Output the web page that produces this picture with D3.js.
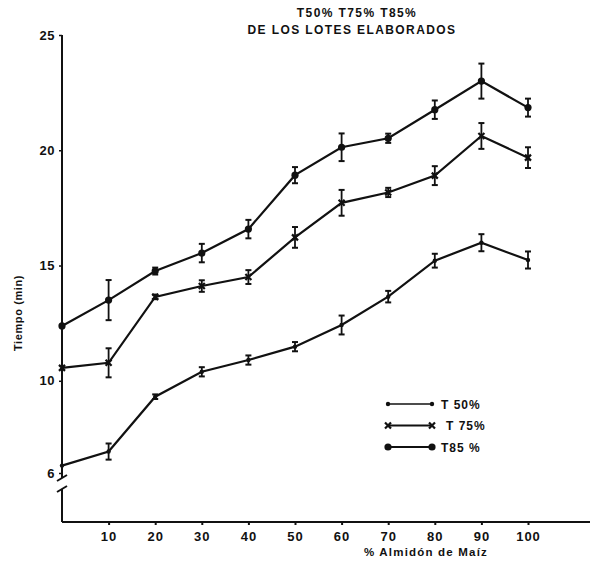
<!DOCTYPE html>
<html>
<head>
<meta charset="utf-8">
<script src="https://cdn.jsdelivr.net/npm/d3@7"></script>
<style>
  body { margin: 0; background: #fff; }
  svg text { font-family: "Liberation Sans", Arial, sans-serif; font-weight: bold; fill: #111; }
</style>
</head>
<body>
<svg id="chart" width="593" height="569"></svg>
<script>
// % corn starch
const xValues = [0, 10, 20, 30, 40, 50, 60, 70, 80, 90, 100];
const xTicks = [10, 20, 30, 40, 50, 60, 70, 80, 90, 100];
const yTicks = [6, 10, 15, 20, 25];

// times (min) and error half-widths
const t50 = [6.32, 6.93, 9.31, 10.39, 10.9, 11.48, 12.42, 13.65, 15.21, 15.99, 15.24];
const t50Err = [0, 0.35, 0.1, 0.2, 0.2, 0.2, 0.41, 0.25, 0.3, 0.37, 0.37];
const t75 = [10.56, 10.78, 13.64, 14.11, 14.5, 16.22, 17.72, 18.17, 18.9, 20.62, 19.68];
const t75Err = [0, 0.63, 0.1, 0.25, 0.3, 0.45, 0.56, 0.2, 0.41, 0.56, 0.45];
const t85 = [12.38, 13.5, 14.76, 15.54, 16.58, 18.92, 20.13, 20.52, 21.76, 23.0, 21.85];
const t85Err = [0, 0.87, 0.15, 0.4, 0.4, 0.35, 0.6, 0.2, 0.4, 0.76, 0.39];

const seriesNames = ['T50%', 'T75%', 'T85%'];
const legendLabels = ['T 50%', 'T 75%', 'T85 %'];

const svg = d3.select('#chart');
const x = d3.scaleLinear([0, 100], [62, 528]);
const y = d3.scaleLinear([6, 25], [473, 35]);
const xAxisY = 522;

// title
svg.append('text').attr('x', 357).attr('y', 17).attr('text-anchor', 'middle')
  .attr('font-size', 12).attr('letter-spacing', 1.4).text('T50% T75% T85%');
svg.append('text').attr('x', 352).attr('y', 34).attr('text-anchor', 'middle')
  .attr('font-size', 12).attr('letter-spacing', 1.4).text('DE LOS LOTES ELABORADOS');

// y axis (ticks + labels), domain drawn by hand for the break
const yAxis = svg.append('g').attr('transform', `translate(${x(0)},0)`)
  .call(d3.axisLeft(y).tickValues(yTicks).tickSize(3).tickPadding(4));
yAxis.select('.domain').remove();
yAxis.selectAll('line').attr('stroke', '#111').attr('stroke-width', 1.5);
yAxis.selectAll('text').attr('font-size', 13).attr('letter-spacing', 0.5)
  .attr('font-family', '"Liberation Sans", Arial, sans-serif');

const axisPath = svg.append('g').attr('stroke', '#111').attr('stroke-width', 2).attr('fill', 'none');
axisPath.append('line').attr('x1', x(0)).attr('x2', x(0)).attr('y1', y(25)).attr('y2', y(6) + 5);
axisPath.append('line').attr('x1', x(0)).attr('x2', x(0)).attr('y1', y(6) + 16).attr('y2', xAxisY);
axisPath.append('line').attr('x1', x(0) - 5).attr('x2', x(0) + 5).attr('y1', y(6) + 8).attr('y2', y(6) + 2);
axisPath.append('line').attr('x1', x(0) - 5).attr('x2', x(0) + 5).attr('y1', y(6) + 19).attr('y2', y(6) + 13);
axisPath.append('line').attr('x1', x(0)).attr('x2', 590).attr('y1', xAxisY).attr('y2', xAxisY);

// x axis ticks + labels
const xAxis = svg.append('g').attr('transform', `translate(0,${xAxisY})`)
  .call(d3.axisBottom(x).tickValues(xTicks).tickSize(3).tickPadding(7));
xAxis.select('.domain').remove();
xAxis.selectAll('line').attr('stroke', '#111').attr('stroke-width', 2);
xAxis.selectAll('text').attr('font-size', 13).attr('letter-spacing', 1)
  .attr('font-family', '"Liberation Sans", Arial, sans-serif');

// axis titles
svg.append('text').attr('transform', 'translate(22,313) rotate(-90)').attr('text-anchor', 'middle')
  .attr('font-size', 11).attr('letter-spacing', 0.6).text('Tiempo (min)');
svg.append('text').attr('x', 426).attr('y', 556).attr('text-anchor', 'middle')
  .attr('font-size', 11.5).attr('letter-spacing', 1.2).text('% Almidón de Maíz');

const line = d3.line().x((d, i) => x(xValues[i])).y(d => y(d));

function drawMarker(g, type, cx, cy) {
  if (type === 0) {
    g.append('circle').attr('cx', cx).attr('cy', cy).attr('r', 2.2).attr('fill', '#111');
  } else if (type === 1) {
    g.append('path').attr('d', `M${cx - 3},${cy - 3}L${cx + 3},${cy + 3}M${cx - 3},${cy + 3}L${cx + 3},${cy - 3}`)
      .attr('stroke', '#111').attr('stroke-width', 2.2);
  } else {
    g.append('circle').attr('cx', cx).attr('cy', cy).attr('r', 3.6).attr('fill', '#111');
  }
}

const series = [[t50, t50Err], [t75, t75Err], [t85, t85Err]];
series.forEach(([vals, errs], s) => {
  const g = svg.append('g');
  g.append('path').attr('d', line(vals)).attr('fill', 'none')
    .attr('stroke', '#111').attr('stroke-width', 2.2);
  vals.forEach((v, i) => {
    const cx = x(xValues[i]);
    if (errs[i] > 0) {
      const y0 = y(v - errs[i]), y1 = y(v + errs[i]);
      g.append('line').attr('x1', cx).attr('x2', cx).attr('y1', y0).attr('y2', y1)
        .attr('stroke', '#111').attr('stroke-width', 1.8);
      [y0, y1].forEach(yy => g.append('line').attr('x1', cx - 3).attr('x2', cx + 3)
        .attr('y1', yy).attr('y2', yy).attr('stroke', '#111').attr('stroke-width', 2));
    }
    drawMarker(g, s, cx, y(v));
  });
});

// legend
const legend = svg.append('g');
seriesNames.forEach((name, i) => {
  const ly = 404 + i * 21.5;
  legend.append('line').attr('x1', 388).attr('x2', 432).attr('y1', ly).attr('y2', ly)
    .attr('stroke', '#111').attr('stroke-width', i === 0 ? 1.5 : 2);
  drawMarker(legend, i, 388, ly);
  drawMarker(legend, i, 432, ly);
  legend.append('text').attr('x', i === 1 ? 446 : 441).attr('y', ly + 4.5)
    .attr('font-size', 12).attr('letter-spacing', 1).text(legendLabels[i]);
});
</script>
</body>
</html>
